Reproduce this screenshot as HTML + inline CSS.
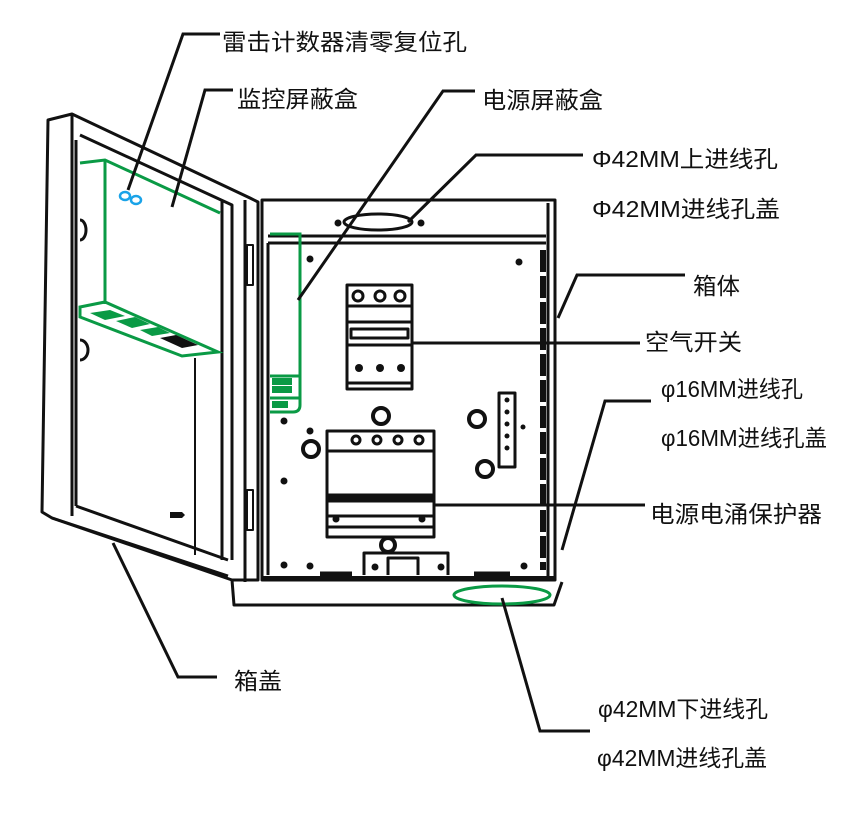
<!DOCTYPE html>
<html><head><meta charset="utf-8"><style>
html,body{margin:0;padding:0;background:#fff;}
svg{display:block;}
text{font-family:"Liberation Sans","Noto Sans CJK SC",sans-serif;font-size:23px;fill:#111;}
</style></head><body>
<svg width="868" height="813" viewBox="0 0 868 813" xmlns="http://www.w3.org/2000/svg">
<g fill="none" stroke="#111" stroke-width="3" stroke-linejoin="round">
<!-- door -->
<path d="M48,120 L72,114 L250,198 L258,202 L258,580 L232,580 L52,518 L42,512 Z"/>
<path d="M72,114 L72,516"/>
<path d="M80,135 L232,205 L232,560"/>
<path d="M76,140 L76,506"/>
<path d="M76,506 L228,560"/>
<path d="M52,518 L228,576"/>
<path d="M245,200 L245,582"/>
<path d="M222,200 L222,560"/>
<path d="M195,358 L195,555" stroke-width="2"/>
<path d="M80,220 A6,10 0 0 1 80,240" />
<path d="M80,340 A8,10 0 0 1 80,360" />
<rect x="247" y="245" width="6" height="40" stroke-width="2"/>
<rect x="247" y="490" width="6" height="40" stroke-width="2"/>
<!-- box -->
<path d="M262,200 L555,200 L555,580 L262,580 Z"/>
<path d="M548,203 L548,578"/>
<path d="M268,236 L546,236 M268,243 L546,243"/>
<path d="M268,243 L268,575"/>
<path d="M232,580 L234,605 L554,605 L562,582"/>
<ellipse cx="378" cy="222" rx="34" ry="8"/>
<!-- side ribs -->
<path d="M543,250 L543,570" stroke-width="6" stroke-dasharray="22,4"/>
<!-- breaker -->
<rect x="347" y="285" width="65" height="104"/>
<path d="M347,306 L412,306 M347,322 L412,322 M351,329 L408,329 L408,338 L351,338 Z M347,345 L412,345 M347,383 L412,383"/>
<circle cx="358" cy="296" r="5"/><circle cx="380" cy="296" r="5"/><circle cx="400" cy="296" r="5"/>
<!-- SPD -->
<rect x="327" y="431" width="107" height="106"/>
<path d="M327,451 L434,451 M327,495 L434,495 M327,516 L434,516 M327,527 L434,527"/>
<path d="M327,499 L434,499" stroke-width="7"/>
<circle cx="356" cy="440" r="4"/><circle cx="377" cy="440" r="4"/><circle cx="398" cy="440" r="4"/><circle cx="419" cy="440" r="4"/>
<!-- terminal -->
<rect x="499" y="393" width="16" height="74"/>
<!-- bottom bracket -->
<path d="M364,575 L364,553 L448,553 L448,575 M388,575 L388,558 L418,558 L418,575"/>
<path d="M320,574 L352,574 M474,574 L510,574" stroke-width="5"/>
<path d="M262,578 L555,578" stroke-width="4"/>
<!-- standoffs -->
<circle cx="381" cy="416" r="8" stroke-width="4"/>
<circle cx="311" cy="449" r="8" stroke-width="4"/>
<circle cx="477" cy="419" r="8" stroke-width="4"/>
<circle cx="485" cy="469" r="8" stroke-width="4"/>
<circle cx="388" cy="545" r="7" stroke-width="4"/>
</g>
<g fill="#111">
<circle cx="338" cy="223" r="3.5"/><circle cx="421" cy="223" r="3.5"/>
<circle cx="310" cy="259" r="3.5"/><circle cx="519" cy="262" r="3.5"/>
<circle cx="284" cy="421" r="3.5"/><circle cx="310" cy="431" r="3.5"/><circle cx="284" cy="481" r="3.5"/>
<circle cx="336" cy="519" r="3.5"/><circle cx="422" cy="519" r="3.5"/>
<circle cx="359" cy="368" r="4"/><circle cx="380" cy="368" r="4"/><circle cx="401" cy="368" r="4"/>
<circle cx="310" cy="566" r="3.5"/><circle cx="375" cy="567" r="3.5"/><circle cx="441" cy="567" r="3.5"/><circle cx="524" cy="566" r="3.5"/>
<circle cx="284" cy="565" r="3.5"/>
<circle cx="507" cy="400" r="2.5"/><circle cx="507" cy="412" r="2.5"/><circle cx="507" cy="424" r="2.5"/><circle cx="507" cy="436" r="2.5"/><circle cx="507" cy="448" r="2.5"/><circle cx="523" cy="427" r="2.5"/>
<path d="M170,512 L182,512 L185,515 L182,518 L170,518 Z"/>
</g>
<!-- green parts -->
<g fill="none" stroke="#0a9a45" stroke-width="3">
<path d="M80,163 L105,160 L220,213"/>
<path d="M105,160 L105,304"/>
<path d="M80,307 L105,302 L218,352 L182,356 L80,317 Z"/>
<path d="M270,234 L300,234 L300,405 Q300,412 293,412 L270,412"/>
<path d="M270,376 L300,376 M270,398 L300,398"/>
<ellipse cx="502" cy="595" rx="48" ry="9"/>
</g>
<g fill="#0a9a45">
<path d="M90,313 L110,310 L125,316 L105,320 Z"/>
<path d="M116,321 L135,317 L150,324 L132,328 Z"/>
<path d="M140,330 L158,327 L170,333 L152,336 Z"/>
<rect x="272" y="378" width="20" height="7"/><rect x="272" y="386" width="20" height="7"/><rect x="272" y="401" width="16" height="7"/>
</g>
<path d="M160,338 L176,335 L198,345 L182,348 Z" fill="#111"/>
<g fill="none" stroke="#1aa3e8" stroke-width="2.5">
<ellipse cx="125" cy="196" rx="5" ry="4"/><ellipse cx="136" cy="200" rx="5" ry="4"/>
</g>
<!-- leaders -->
<g fill="none" stroke="#111" stroke-width="3">
<path d="M128,190 L183,34 L220,34"/>
<path d="M172,207 L205,90 L233,90"/>
<path d="M298,300 L443,91 L475,91"/>
<path d="M408,222 L476,155 L583,155"/>
<path d="M558,318 L577,275 L685,275"/>
<path d="M413,343 L640,343"/>
<path d="M562,550 L605,401 L651,401"/>
<path d="M435,505 L645,505"/>
<path d="M113,543 L178,677 L217,677"/>
<path d="M502,598 L540,731 L590,731"/>
</g>
<text x="222" y="50" textLength="245" lengthAdjust="spacingAndGlyphs">雷击计数器清零复位孔</text>
<text x="237" y="107" textLength="121" lengthAdjust="spacingAndGlyphs">监控屏蔽盒</text>
<text x="482" y="108" textLength="121" lengthAdjust="spacingAndGlyphs">电源屏蔽盒</text>
<text x="592" y="167" textLength="186" lengthAdjust="spacingAndGlyphs">Φ42MM上进线孔</text>
<text x="592" y="217" textLength="188" lengthAdjust="spacingAndGlyphs">Φ42MM进线孔盖</text>
<text x="693" y="294" textLength="47" lengthAdjust="spacingAndGlyphs">箱体</text>
<text x="645" y="350" textLength="97" lengthAdjust="spacingAndGlyphs">空气开关</text>
<text x="661" y="397" textLength="142" lengthAdjust="spacingAndGlyphs">φ16MM进线孔</text>
<text x="661" y="446" textLength="166" lengthAdjust="spacingAndGlyphs">φ16MM进线孔盖</text>
<text x="650" y="522" textLength="172" lengthAdjust="spacingAndGlyphs">电源电涌保护器</text>
<text x="234" y="689" textLength="48" lengthAdjust="spacingAndGlyphs">箱盖</text>
<text x="598" y="717" textLength="170" lengthAdjust="spacingAndGlyphs">φ42MM下进线孔</text>
<text x="597" y="766" textLength="170" lengthAdjust="spacingAndGlyphs">φ42MM进线孔盖</text>
</svg>
</body></html>
